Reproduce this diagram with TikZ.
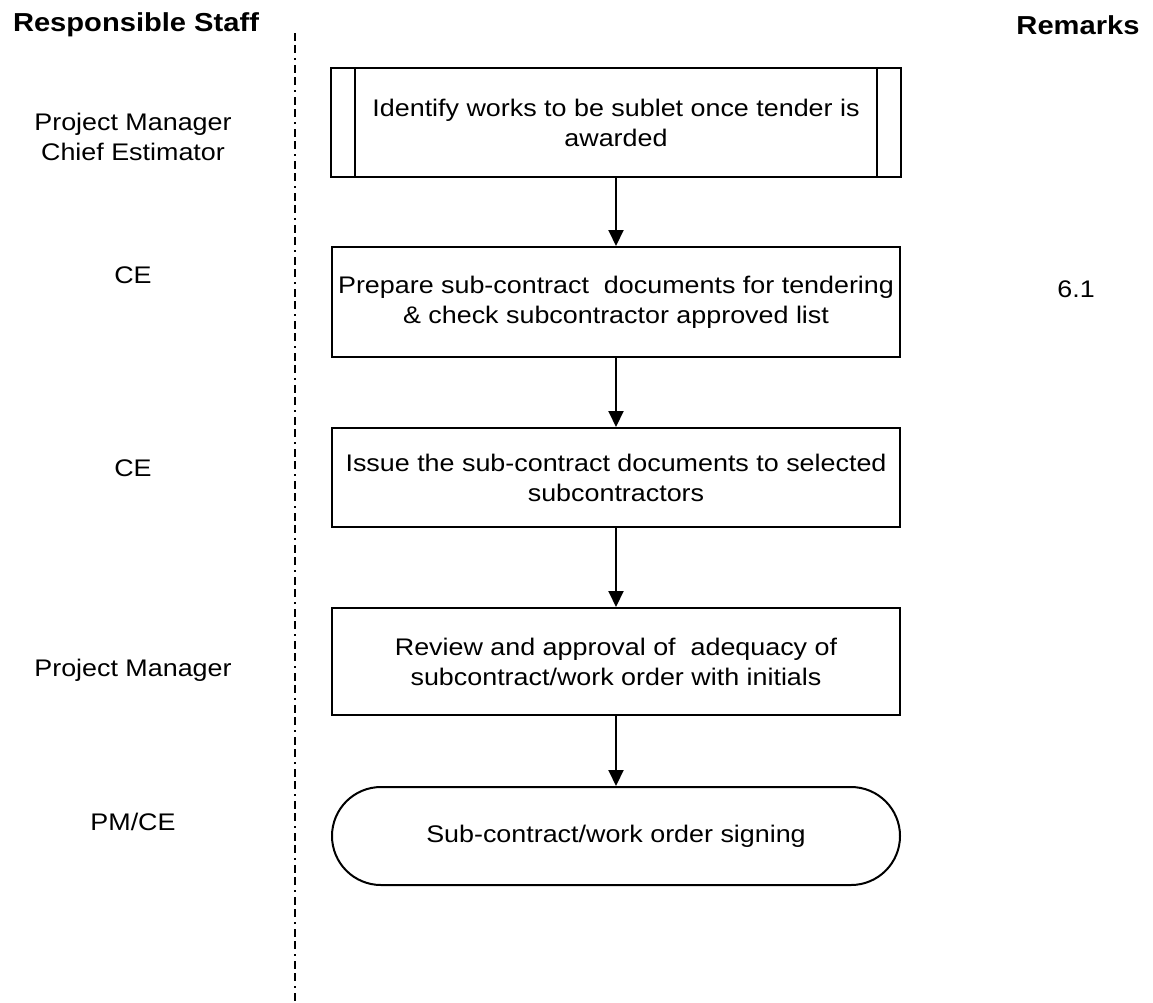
\documentclass[tikz,border=0pt]{standalone}
\usepackage{fontspec}
\setmainfont{Liberation Sans}[FakeStretch=1.12]
\usetikzlibrary{arrows.meta}
\tikzset{
  body/.style={font=\fontsize{24}{30}\selectfont, align=center, inner sep=0pt},
  head/.style={font=\fontsize{26}{30}\selectfont\bfseries, inner sep=0pt},
  procbox/.style={draw=black, line width=2pt, body, minimum width=568pt},
  termbox/.style={draw=black, line width=2pt, body, minimum width=568pt, minimum height=98pt, rounded corners=49pt},
  arr/.style={line width=2pt, -{Triangle[width=15pt,length=16pt]}},
  swim/.style={line width=2pt, dash pattern=on 8pt off 4pt on 8pt off 5pt on 2pt off 5pt}
}
\begin{document}
\begin{tikzpicture}[x=1pt,y=-1pt]
\useasboundingbox (0,0) rectangle (1153,1002);
% headers
\node[head] (hstaff) at (136,25) {Responsible Staff};
\node[head] (hrem) at (1078,25) {Remarks};
% swimlane divider
\coordinate (dtop) at (295,33);
\coordinate (dbot) at (295,1002);
\draw[swim] (dtop) -- (dbot);
% process boxes
\node[procbox, minimum width=570pt, minimum height=109pt] (b1) at (616,122.5)
  {Identify works to be sublet once tender is\\awarded};
\draw[line width=2pt] ([xshift=25pt]b1.north west) -- ([xshift=25pt]b1.south west);
\draw[line width=2pt] ([xshift=-25pt]b1.north east) -- ([xshift=-25pt]b1.south east);
\node[procbox, minimum height=110pt] (b2) at (616,302)
  {Prepare sub-contract~ documents for tendering\\\& check subcontractor approved list};
\node[procbox, minimum height=99pt] (b3) at (616,477.5)
  {Issue the sub-contract documents to selected\\subcontractors};
\node[procbox, minimum height=107pt] (b4) at (616,661.5)
  {Review and approval of~ adequacy of\\subcontract/work order with initials};
\node[termbox] (b5) at (616,836) {Sub-contract/work order signing};
% connectors
\draw[arr] (b1.south) -- (b2.north);
\draw[arr] (b2.south) -- (b3.north);
\draw[arr] (b3.south) -- (b4.north);
\draw[arr] (b4.south) -- (b5.north);
% responsible staff
\node[body] (s1) at (133,137) {Project Manager\\Chief Estimator};
\node[body] (s2) at (133,275) {CE};
\node[body] (s3) at (133,468) {CE};
\node[body] (s4) at (133,670) {Project Manager};
\node[body] (s5) at (133,822) {PM/CE};
% remarks
\node[body] (r2) at (1076,289) {6.1};
\end{tikzpicture}
\end{document}
